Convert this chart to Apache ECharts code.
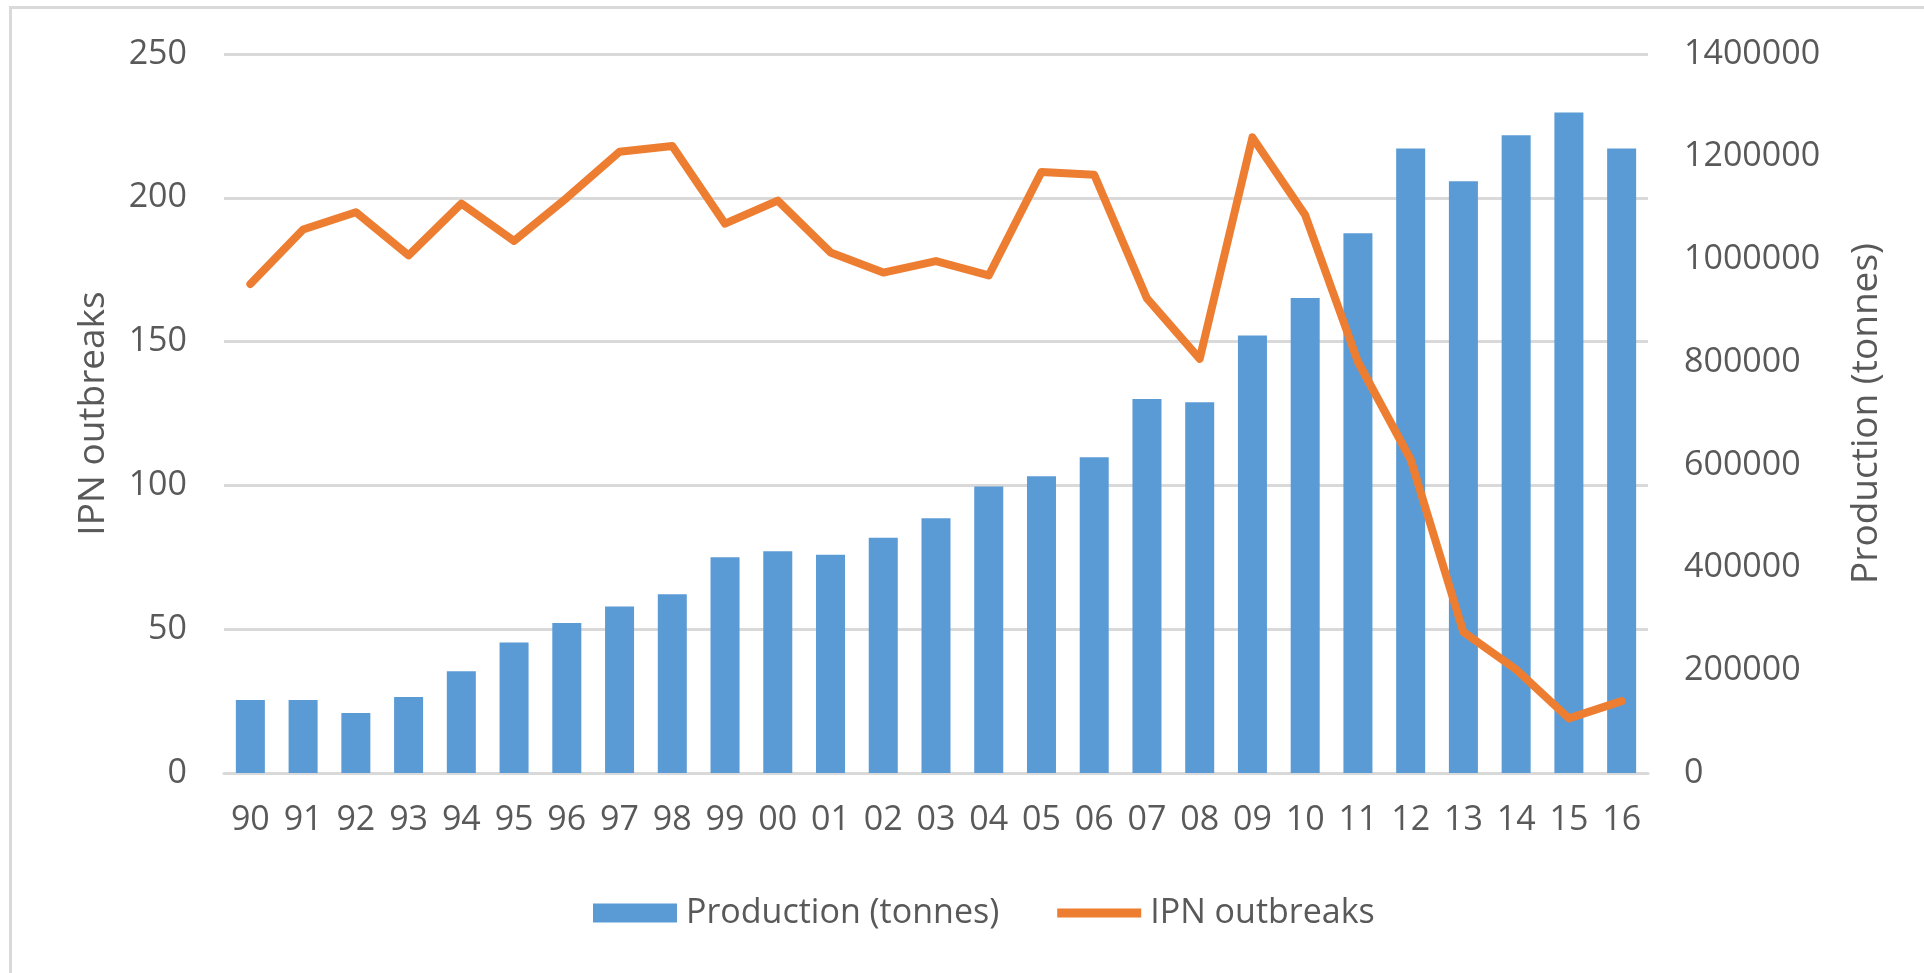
<!DOCTYPE html>
<html>
<head>
<meta charset="utf-8">
<script src="https://cdn.jsdelivr.net/npm/echarts@6/dist/echarts.min.js"></script>
<style>
  html, body { margin: 0; padding: 0; background: #ffffff; }
  #chart { width: 1924px; height: 973px; }
</style>
</head>
<body>
<div id="chart"></div>
<script>
// Years (two-digit labels)
const years = ['90','91','92','93','94','95','96','97','98','99','00','01','02','03','04','05','06','07','08','09','10','11','12','13','14','15','16'];

// Production in tonnes (bars, right axis)
const production = [142000, 142000, 117000, 148000, 198000, 254000, 292000, 324000, 348000, 420000,
                    432000, 425000, 458000, 496000, 558000, 578000, 615000, 728000, 722000, 852000,
                    925000, 1051000, 1216000, 1152000, 1242000, 1286000, 1216000];

// Number of IPN outbreaks (line, left axis)
const outbreaks = [170, 189, 195, 180, 198, 185, 200, 216, 218, 191,
                   199, 181, 174, 178, 173, 209, 208, 165, 144, 221,
                   194, 143, 109, 49, 36, 19, 25];

// Axis ranges and steps
const leftAxis = { min: 0, max: 250, step: 50 };
const rightAxis = { min: 0, max: 1400000, step: 200000 };

const TEXT = '#595959';
const GRID = '#d9d9d9';
const FONT = 'Open Sans';

// Legend key for the line series: a thick bar centred in the key box
const LINE_KEY = 'path://M0,0L0,0M0,19L0,19M0,5L86,5L86,14L0,14Z';

const chart = echarts.init(document.getElementById('chart'), null, { renderer: 'canvas' });

chart.setOption({
  backgroundColor: '#ffffff',
  animation: false,
  textStyle: { fontFamily: FONT, color: TEXT },
  graphic: [{
    type: 'rect',
    shape: { x: 10.5, y: 7.5, width: 2000, height: 1000 },
    style: { fill: 'none', stroke: GRID, lineWidth: 3 },
    silent: true,
    z: -10
  }],
  grid: { left: 224, right: 276, top: 54, bottom: 200, containLabel: false },
  legend: {
    data: [
      { name: 'Production (tonnes)', icon: 'rect' },
      { name: 'IPN outbreaks', icon: LINE_KEY }
    ],
    left: 588,
    top: 891,
    itemGap: 58,
    itemWidth: 84,
    itemHeight: 19,
    symbolKeepAspect: false,
    textStyle: { fontFamily: FONT, fontSize: 34, color: TEXT, padding: [0, 0, 0, 4] }
  },
  xAxis: {
    type: 'category',
    data: years,
    boundaryGap: true,
    axisLine: { show: true, lineStyle: { color: GRID, width: 3 } },
    axisTick: { show: false },
    axisLabel: { fontFamily: FONT, fontSize: 34, color: TEXT, margin: 30, interval: 0 }
  },
  yAxis: [{
    type: 'value',
    min: leftAxis.min,
    max: leftAxis.max,
    interval: leftAxis.step,
    name: 'IPN outbreaks',
    nameLocation: 'middle',
    nameRotate: 90,
    nameGap: 112,
    nameTextStyle: { fontFamily: FONT, fontSize: 37, color: TEXT },
    axisLine: { show: false },
    axisTick: { show: false },
    axisLabel: { fontFamily: FONT, fontSize: 34, color: TEXT, margin: 37 },
    splitLine: { show: true, lineStyle: { color: GRID, width: 3 } }
  }, {
    type: 'value',
    min: rightAxis.min,
    max: rightAxis.max,
    interval: rightAxis.step,
    position: 'right',
    name: 'Production (tonnes)',
    nameLocation: 'middle',
    nameRotate: 90,
    nameGap: 200,
    nameTextStyle: { fontFamily: FONT, fontSize: 37, color: TEXT },
    axisLine: { show: false },
    axisTick: { show: false },
    axisLabel: {
      fontFamily: FONT, fontSize: 34, color: TEXT, margin: 36, align: 'left',
      formatter: v => String(v)
    },
    splitLine: { show: false }
  }],
  series: [{
    name: 'Production (tonnes)',
    type: 'bar',
    yAxisIndex: 1,
    data: production,
    barWidth: '55%',
    itemStyle: { color: '#5B9BD5' }
  }, {
    name: 'IPN outbreaks',
    type: 'line',
    yAxisIndex: 0,
    data: outbreaks,
    symbol: 'none',
    lineStyle: { color: '#ED7D31', width: 8, join: 'round', cap: 'round' },
    itemStyle: { color: '#ED7D31' }
  }]
});
</script>
</body>
</html>
